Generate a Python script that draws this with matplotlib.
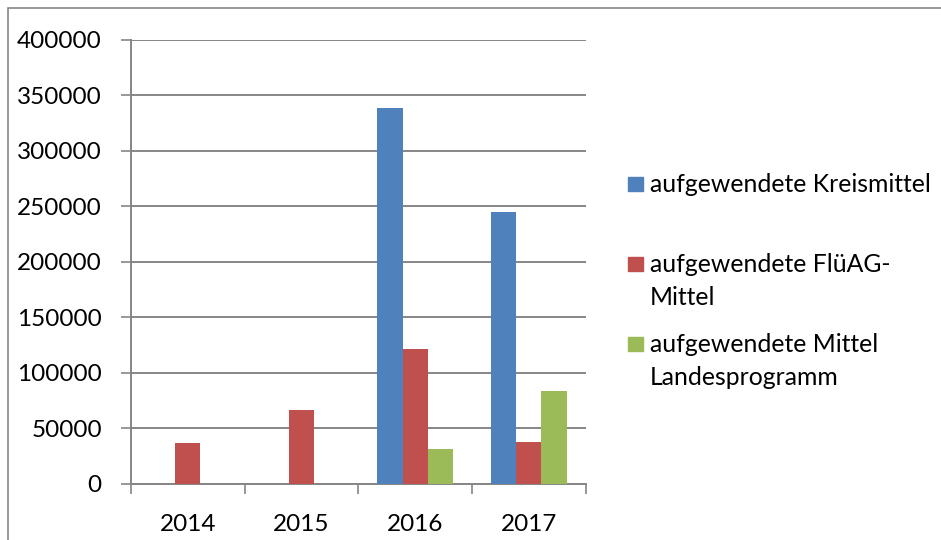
import matplotlib
matplotlib.use("Agg")
import matplotlib.pyplot as plt
import numpy as np
from matplotlib.patches import Rectangle

# --- data ---
years = ["2014", "2015", "2016", "2017"]
kreismittel = [0, 0, 339000, 245200]
fluag = [37000, 66000, 121000, 37200]
landesprogramm = [0, 0, 31500, 84000]
series_names = ["aufgewendete Kreismittel", "aufgewendete FlüAG-\nMittel",
                "aufgewendete Mittel\nLandesprogramm"]
colors = ["#4F81BD", "#C0504D", "#9BBB59"]
grid_col = "#868686"

plt.rcParams["font.family"] = ["Lato", "DejaVu Sans"]

W, H = 941, 540
fig = plt.figure(figsize=(W / 100, H / 100), dpi=100)
ax = fig.add_axes([131 / W, 1 - 483.7 / H, (585.7 - 131) / W, (483.7 - 40) / H])

x = np.arange(len(years))
bw = 1 / 4.5
for i, vals in enumerate([kreismittel, fluag, landesprogramm]):
    ax.bar(x + (i - 1) * bw, vals, width=bw, color=colors[i], zorder=3)

ax.set_xlim(-0.5, len(years) - 0.5)
ax.set_ylim(0, 400000)
ax.set_yticks(np.arange(0, 400001, 50000))
ax.set_yticklabels([str(v) for v in range(0, 400001, 50000)])
ax.set_xticks(x)
ax.set_xticklabels(years)
ax.set_xticks(np.arange(-0.5, len(years), 1), minor=True)
ax.tick_params(axis="x", which="major", length=0, pad=22, labelsize=17.5)
ax.tick_params(axis="x", which="minor", length=7, width=1.2, color=grid_col, direction="out")
ax.tick_params(axis="y", length=7, width=1.2, color=grid_col, pad=14, labelsize=17.5)
ax.grid(axis="y", color=grid_col, linewidth=1.4, zorder=0)
ax.set_axisbelow(True)
for s in ["top", "right"]:
    ax.spines[s].set_visible(False)
for s in ["left", "bottom"]:
    ax.spines[s].set_color(grid_col)
    ax.spines[s].set_linewidth(1.4)

# legend drawn by hand, Excel-like spacing (baseline of first line per entry)
leg_base = [192.3, 271.7, 351.7]
line_gap = 33
for name, col, yb in zip(series_names, colors, leg_base):
    fig.add_artist(Rectangle((628 / W, 1 - (yb - 1) / H), 15 / W, 14 / H,
                             transform=fig.transFigure, color=col))
    for k, line in enumerate(name.split("\n")):
        fig.text(650 / W, 1 - (yb + k * line_gap) / H, line, fontsize=17.8,
                 va="baseline", ha="left")

# outer chart border
fig.add_artist(Rectangle((8 / W, -0.1), 1.1, 1 - 8 / H + 0.1, transform=fig.transFigure,
                         fill=False, edgecolor=grid_col, linewidth=1.2))

fig.savefig("out.png", dpi=100)
